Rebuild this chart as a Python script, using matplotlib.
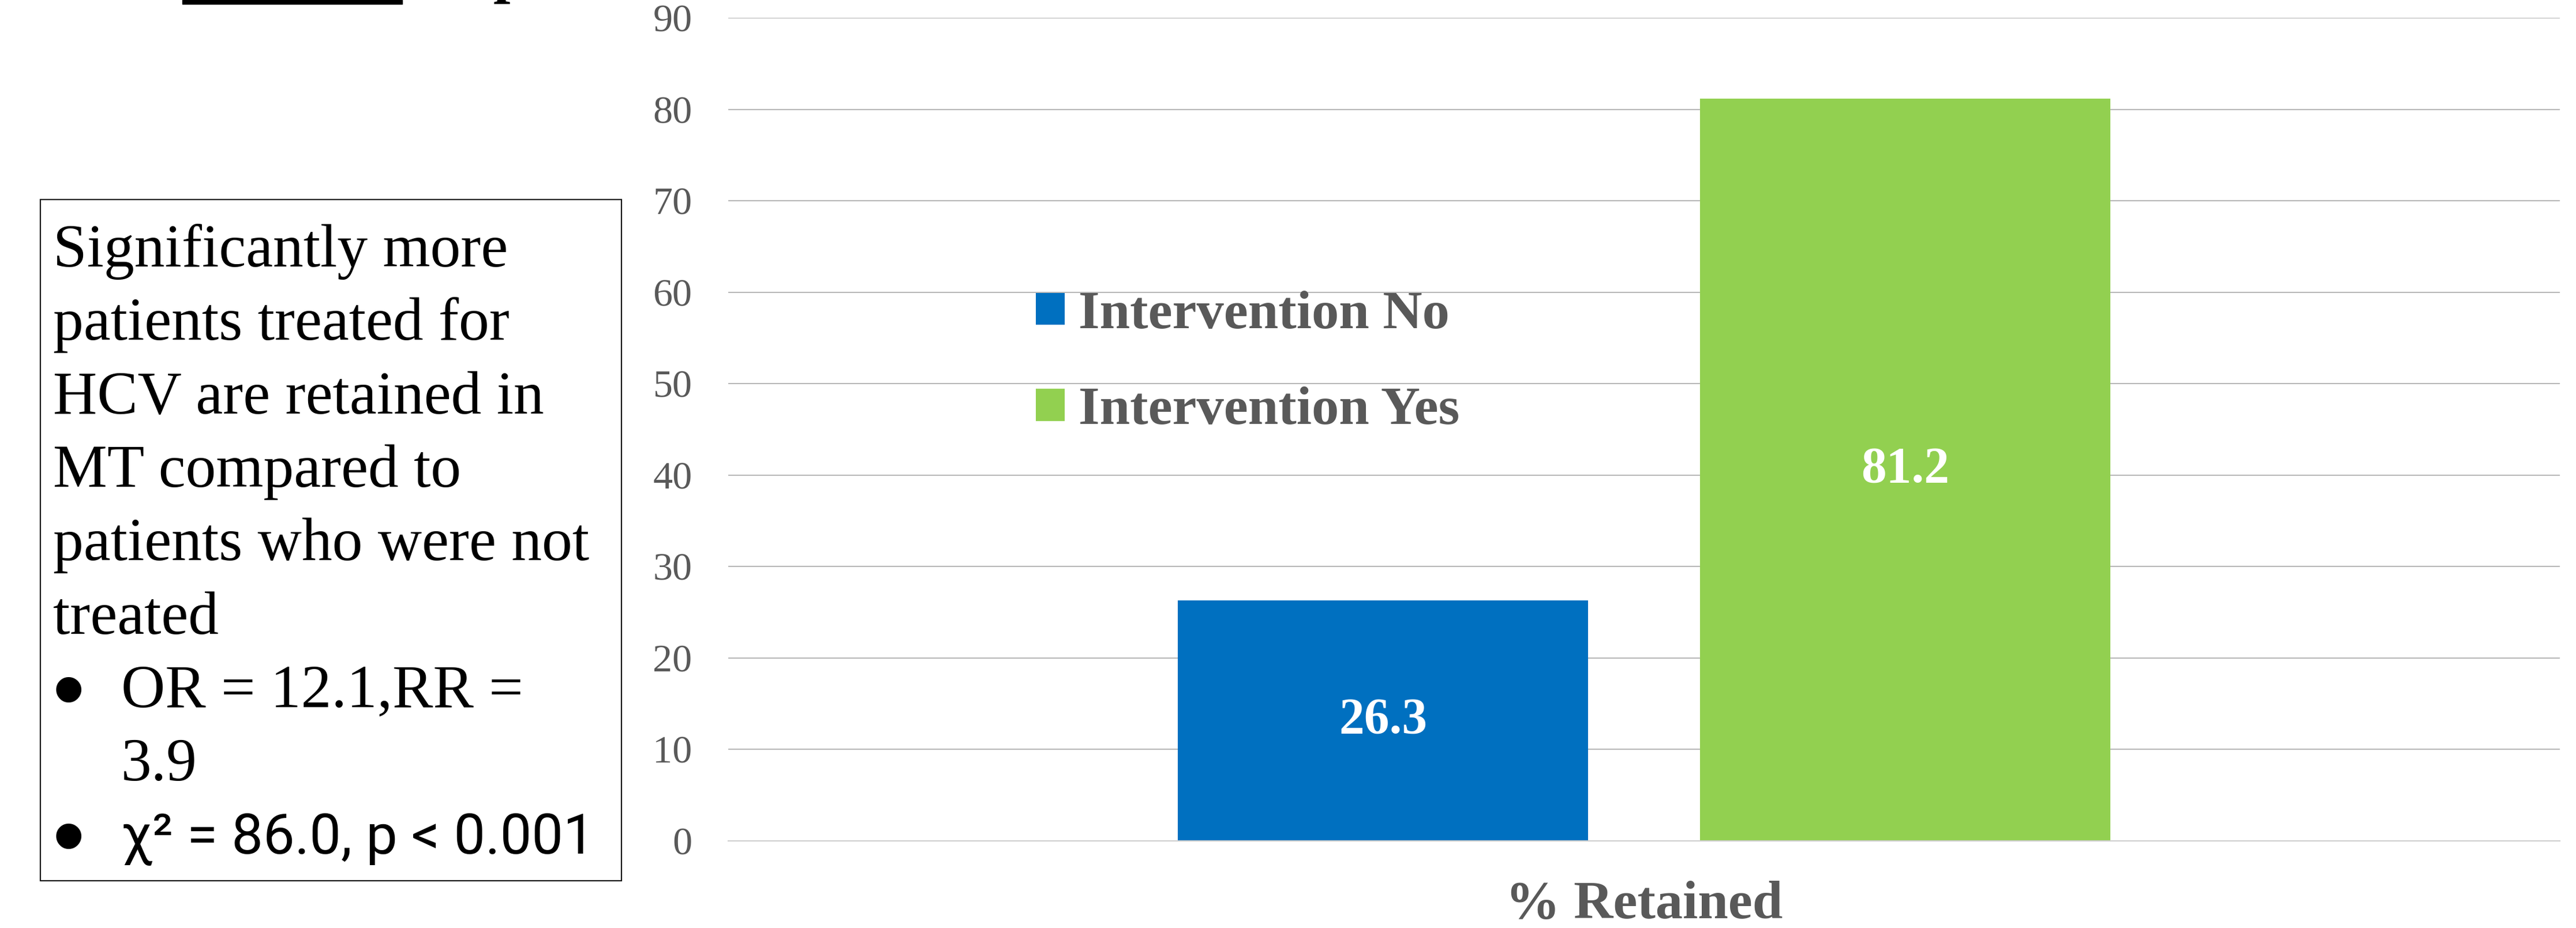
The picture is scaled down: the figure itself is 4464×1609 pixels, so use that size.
import matplotlib
matplotlib.use('Agg')
import matplotlib.pyplot as plt
from matplotlib.patches import Rectangle

# chart data
categories = ['% Retained']
series_names = ['Intervention No', 'Intervention Yes']
series_values = [[26.3], [81.2]]
series_colors = ['#0070C0', '#92D050']
y_ticks = [0, 10, 20, 30, 40, 50, 60, 70, 80, 90]

# note box text
note_lines = ['Significantly more', 'patients treated for', 'HCV are retained in',
              'MT compared to', 'patients who were not', 'treated']
bullet_lines = [['OR = 12.1,RR =', '3.9'], ['χ² = 86.0, p < 0.001']]
bullet_fonts = ['Liberation Serif', ['Roboto', 'DejaVu Sans']]

SERIF = 'Liberation Serif'
GREY = '#595959'

W, H = 4464, 1609
fig = plt.figure(figsize=(W / 100, H / 100), dpi=100)


def fx(px):
    return px / W


def fy(py):
    return 1 - py / H


ax = fig.add_axes([fx(1262), fy(1458), fx(4436) - fx(1262), fy(31) - fy(1458)])

# 1. bars
offsets = [-0.285, 0.285]
width = 0.448
for name, vals, col, off in zip(series_names, series_values, series_colors, offsets):
    xs = [i + off for i in range(len(categories))]
    bars = ax.bar(xs, vals, width, color=col, label=name, zorder=2)
    ax.bar_label(bars, fmt='%.1f', label_type='center', color='white',
                 fontsize=63, fontweight='bold', family=SERIF)

# 2. axes styling
ax.set_xlim(-1, 1)
ax.set_ylim(0, 90)
ax.set_yticks(y_ticks)
ax.set_xticks(range(len(categories)), categories)
for s in ax.spines.values():
    s.set_visible(False)
ax.spines['bottom'].set_visible(True)
ax.spines['bottom'].set_color('#d0d0d0')
ax.spines['bottom'].set_linewidth(1.6)
ax.set_axisbelow(True)
ax.yaxis.grid(True, color='#b8b8b8', linewidth=1.5)
ax.tick_params(axis='y', length=0, pad=45, labelsize=49, labelcolor=GREY)
ax.tick_params(axis='x', length=0, pad=50, labelsize=68, labelcolor=GREY)
for lab in ax.get_yticklabels():
    lab.set_family(SERIF)
for lab in ax.get_xticklabels():
    lab.set_family(SERIF)
    lab.set_fontweight('bold')

# 3. legend
ax.legend(loc='upper left', bbox_to_anchor=(fx(1795), fy(504)),
          bbox_transform=fig.transFigure, frameon=False,
          prop={'family': SERIF, 'weight': 'bold', 'size': 68},
          labelcolor=GREY, handlelength=0.53, handleheight=0.53,
          handletextpad=0.25, labelspacing=0.86, borderpad=0, borderaxespad=0)

# 4. note box on the left
fig.add_artist(Rectangle((fx(70), fy(1527)), fx(1077) - fx(70), fy(346) - fy(1527),
                         transform=fig.transFigure, fill=False, ec='black', lw=1.5))
row = 0
line_h = 127.3
top = 462
for line in note_lines:
    fig.text(fx(92), fy(top + row * line_h), line, fontsize=76, family=SERIF, va='baseline')
    row += 1
for parts, fam in zip(bullet_lines, bullet_fonts):
    base = top + row * line_h
    fig.text(fx(91), fy(base + 24), '•', fontsize=116, family='Liberation Sans', va='baseline')
    for part in parts:
        fs = 76 if fam == SERIF else 70
        fig.text(fx(210), fy(top + row * line_h), part, fontsize=fs, family=fam, va='baseline')
        row += 1

# 5. cut-off slide title at the very top
fig.add_artist(Rectangle((fx(316), fy(7)), fx(697) - fx(316), fy(0) - fy(7),
                         transform=fig.transFigure, color='black'))
fig.text(fx(855), fy(-16), 'p', fontsize=76, family=SERIF, fontweight='bold', va='baseline')

fig.savefig('out.png', dpi=100)
